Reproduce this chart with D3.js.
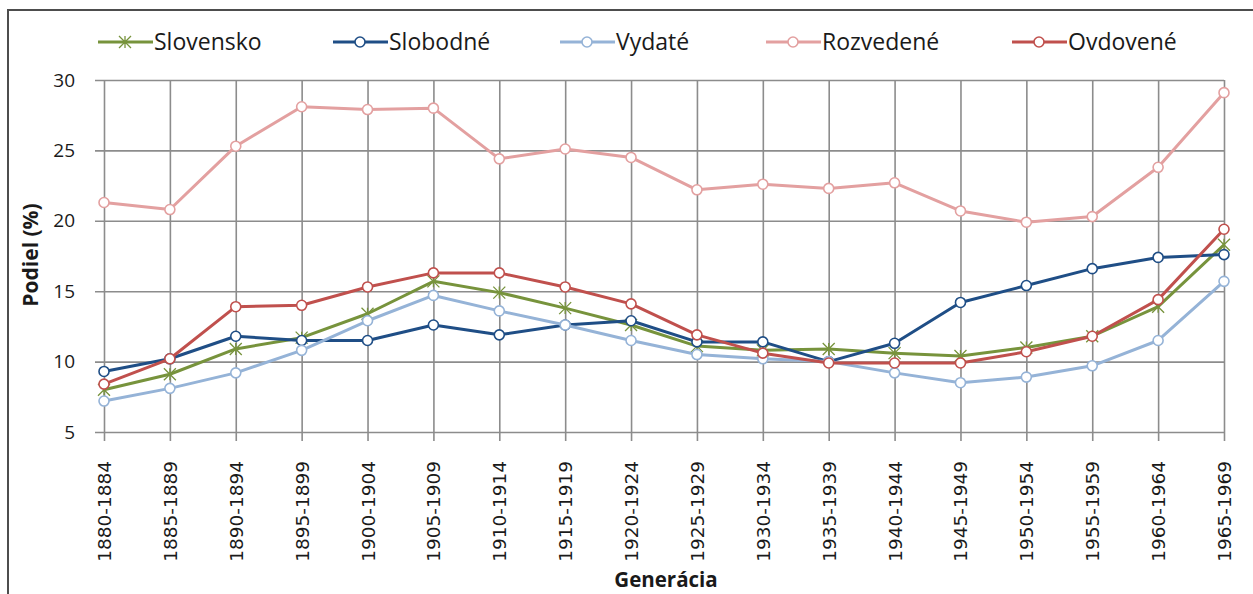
<!doctype html>
<html lang="sk">
<head>
<meta charset="UTF-8">
<title>Podiel podľa generácie</title>
<style>
    body { margin: 0; background: #fff; }
    svg text { fill: #1a1a1a; }
</style>
</head>
<body>
<svg id="chart" width="1253" height="594"></svg>
<script src="https://d3js.org/d3.v7.min.js"></script>
<script>
    // categories (generations)
    const generacie = ["1880-1884", "1885-1889", "1890-1894", "1895-1899", "1900-1904", "1905-1909",
        "1910-1914", "1915-1919", "1920-1924", "1925-1929", "1930-1934", "1935-1939",
        "1940-1944", "1945-1949", "1950-1954", "1955-1959", "1960-1964", "1965-1969"];

    // series values (%)
    const slovensko  = [8.0, 9.1, 10.9, 11.7, 13.4, 15.7, 14.9, 13.8, 12.6, 11.1, 10.8, 10.9, 10.6, 10.4, 11.0, 11.8, 13.9, 18.3];
    const slobodne   = [9.3, 10.2, 11.8, 11.5, 11.5, 12.6, 11.9, 12.6, 12.9, 11.4, 11.4, 10.0, 11.3, 14.2, 15.4, 16.6, 17.4, 17.6];
    const vydate     = [7.2, 8.1, 9.2, 10.8, 12.9, 14.7, 13.6, 12.6, 11.5, 10.5, 10.2, 10.0, 9.2, 8.5, 8.9, 9.7, 11.5, 15.7];
    const rozvedene  = [21.3, 20.8, 25.3, 28.1, 27.9, 28.0, 24.4, 25.1, 24.5, 22.2, 22.6, 22.3, 22.7, 20.7, 19.9, 20.3, 23.8, 29.1];
    const ovdovene   = [8.4, 10.2, 13.9, 14.0, 15.3, 16.3, 16.3, 15.3, 14.1, 11.9, 10.6, 9.9, 9.9, 9.9, 10.7, 11.8, 14.4, 19.4];

    const yTicks = [5, 10, 15, 20, 25, 30];

    const series = [
        {name: "Slovensko", values: slovensko, color: "#77933c", marker: "star"},
        {name: "Slobodné", values: slobodne, color: "#1f4e86", marker: "circle"},
        {name: "Vydaté", values: vydate, color: "#95b3d7", marker: "circle"},
        {name: "Rozvedené", values: rozvedene, color: "#e3a0a0", marker: "circle"},
        {name: "Ovdovené", values: ovdovene, color: "#c0504d", marker: "circle"}
    ];

    const svg = d3.select("#chart");
    const labelFont = "'Open Sans', sans-serif";

    // outer frame
    svg.append("rect")
        .attr("x", 8).attr("y", 10)
        .attr("width", 1260).attr("height", 600)
        .attr("fill", "none")
        .attr("stroke", "#4d4d4d")
        .attr("stroke-width", 2);

    let x = d3.scalePoint().domain(generacie).range([104, 1224]);
    let y = d3.scaleLinear().domain([5, 30]).range([432, 80]);

    // horizontal grid
    svg.append("g")
        .attr("transform", "translate(95,0)")
        .call(d3.axisLeft(y).tickValues(yTicks).tickSize(-(1224 - 95)).tickFormat(""))
        .call(g => g.select(".domain").remove())
        .call(g => g.selectAll("line").attr("stroke", "#8c8c8c").attr("stroke-width", 1.6));

    // vertical grid with small ticks below the axis
    svg.append("g")
        .attr("transform", "translate(0,441)")
        .call(d3.axisBottom(x).tickSize(-(441 - 80)).tickFormat(""))
        .call(g => g.select(".domain").remove())
        .call(g => g.selectAll("line").attr("stroke", "#8c8c8c").attr("stroke-width", 1.6));

    // y labels
    svg.append("g")
        .attr("transform", "translate(95,0)")
        .call(d3.axisLeft(y).tickValues(yTicks).tickSize(0).tickPadding(20))
        .call(g => g.select(".domain").remove())
        .call(g => g.selectAll("text")
            .attr("font-family", labelFont)
            .attr("font-size", "19px")
            .style("fill", "#1a1a1a"));

    // x labels, rotated
    svg.append("g")
        .attr("transform", "translate(0,441)")
        .call(d3.axisBottom(x).tickSize(0).tickFormat(d => d))
        .call(g => g.select(".domain").remove())
        .call(g => g.selectAll("text")
            .attr("font-family", "'DejaVu Sans', sans-serif")
            .attr("font-size", "18.5px")
            .attr("transform", "rotate(-90)")
            .attr("text-anchor", "end")
            .attr("x", -20)
            .attr("y", 0)
            .attr("dy", "0.35em")
            .style("fill", "#1a1a1a"));

    // axis titles
    svg.append("text")
        .attr("transform", "translate(38,255) rotate(-90)")
        .attr("text-anchor", "middle")
        .attr("font-family", labelFont)
        .attr("font-weight", "bold")
        .attr("font-size", "21px")
        .text("Podiel (%)");

    svg.append("text")
        .attr("x", 666).attr("y", 587)
        .attr("text-anchor", "middle")
        .attr("font-family", labelFont)
        .attr("font-weight", "bold")
        .attr("font-size", "20.5px")
        .text("Generácia");

    const line = d3.line()
        .x((d, i) => x(generacie[i]))
        .y(d => y(d));

    const drawMarker = (sel, s, cx, cy) => {
        if (s.marker === "star") {
            const r = 6;
            sel.append("path")
                .attr("d", `M${cx - r},${cy - r}L${cx + r},${cy + r}M${cx - r},${cy + r}L${cx + r},${cy - r}M${cx},${cy - r}L${cx},${cy + r}`)
                .attr("stroke", s.color)
                .attr("stroke-width", 1.3)
                .attr("fill", "none");
        } else {
            sel.append("circle")
                .attr("cx", cx).attr("cy", cy).attr("r", 5)
                .attr("fill", "#fff")
                .attr("stroke", s.color)
                .attr("stroke-width", 1.6);
        }
    };

    // draw series
    series.forEach(s => {
        const g = svg.append("g").attr("class", "series");
        g.append("path")
            .datum(s.values)
            .attr("d", line)
            .attr("fill", "none")
            .attr("stroke", s.color)
            .attr("stroke-width", 3)
            .attr("stroke-linejoin", "round");
        s.values.forEach((v, i) => drawMarker(g, s, x(generacie[i]), y(v)));
    });

    // legend
    const legendX = [98, 333, 560, 766, 1012];
    const legend = svg.append("g");
    series.forEach((s, i) => {
        const lx = legendX[i];
        legend.append("line")
            .attr("x1", lx).attr("x2", lx + 55)
            .attr("y1", 42).attr("y2", 42)
            .attr("stroke", s.color)
            .attr("stroke-width", 3);
        drawMarker(legend, s, lx + 27, 42);
        legend.append("text")
            .attr("x", lx + 56).attr("y", 42)
            .attr("dy", "0.35em")
            .attr("font-family", labelFont)
            .attr("font-size", "23px")
            .text(s.name);
    });
</script>
</body>
</html>
